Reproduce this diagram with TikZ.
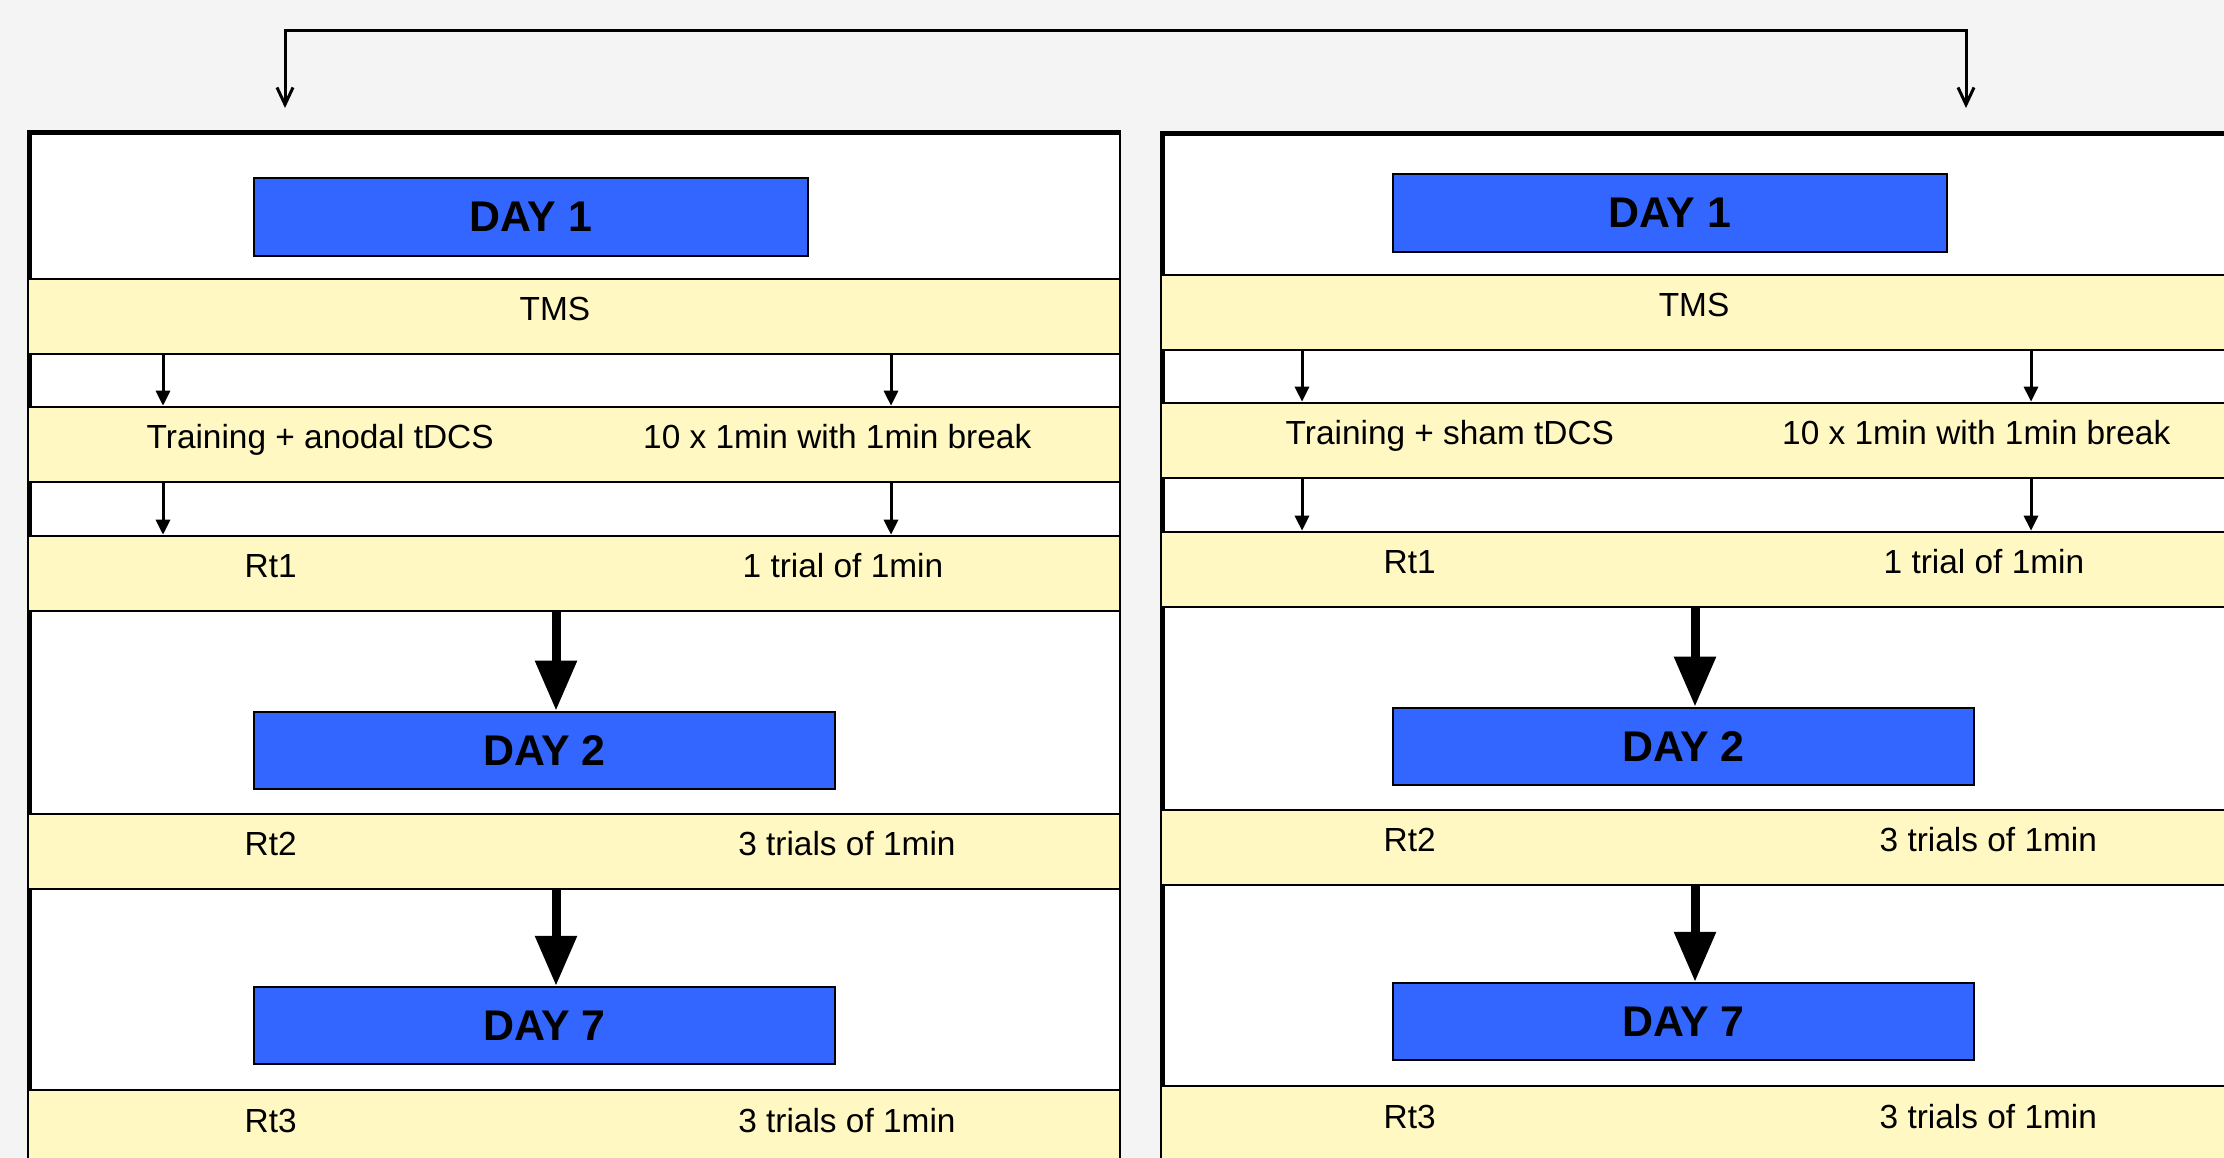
\documentclass[tikz,border=0pt]{standalone}
\usepackage{fontspec}
\setmainfont{Liberation Sans}
\usetikzlibrary{arrows.meta}
\definecolor{daybl}{HTML}{3366FF}
\definecolor{bandyl}{HTML}{FFF8C2}
\definecolor{pagebg}{HTML}{F4F4F4}

\begin{document}
\begin{tikzpicture}[x=0.01cm, y=-0.01cm,
	panel/.style={draw, fill=white, line width=0.8pt, anchor=north west, minimum height=11cm, inner sep=0pt},
	band/.style={draw, fill=bandyl, line width=0.6pt, anchor=north west, minimum height=0.75cm, inner sep=0pt},
	day/.style={draw, fill=daybl, line width=0.6pt, anchor=north west, minimum height=0.775cm, inner sep=0pt, font=\fontsize{12.2}{14}\bfseries},
	txt/.style={anchor=base west, inner sep=0pt, font=\fontsize{9.5}{11}\selectfont},
	smallarrow/.style={-{Triangle[length=0.15cm, width=0.14cm]}, line width=0.03cm},
	bigarrow/.style={-{Triangle[length=0.5cm, width=0.4cm]}, line width=0.09cm},
	splitarrow/.style={{Straight Barb[length=0.17cm, width=0.16cm]}-{Straight Barb[length=0.17cm, width=0.16cm]}, line width=0.03cm}]

	\fill[pagebg] (0,0) rectangle (2224,1158);
	\useasboundingbox (0,0) rectangle (2224,1158);
	\clip (0,0) rectangle (2224,1158);

	% anodal group
	\node [panel, minimum width=10.91cm] (panelL) at (27,130) {};
	\draw [line width=0.4pt] ([xshift=0.04cm]panelL.south west) |- ([yshift=-0.04cm]panelL.north east);
	\node [day, minimum width=5.545cm] (dayL1) at (252.5,177) {DAY 1};
	\node [band, minimum width=10.91cm] (tmsL) at (27,278) {};
	\node [band, minimum width=10.91cm] (trainL) at (27,405.7) {};
	\node [band, minimum width=10.91cm] (rtL1) at (27,534.7) {};
	\node [day, minimum width=5.815cm] (dayL2) at (252.5,710.6) {DAY 2};
	\node [band, minimum width=10.91cm] (rtL2) at (27,812.7) {};
	\node [day, minimum width=5.815cm] (dayL7) at (252.5,985.8) {DAY 7};
	\node [band, minimum width=10.91cm] (rtL3) at (27,1089.3) {};

	\node [txt, anchor=base] (tmsLt) at (555,321) {TMS};
	\node [txt] (trainLa) at (146,448.7) {Training + anodal tDCS};
	\node [txt] (trainLb) at (642.5,448.7) {10 x 1min with 1min break};
	\node [txt] (rtL1a) at (244,577.7) {Rt1};
	\node [txt] (rtL1b) at (742,577.7) {1 trial of 1min};
	\node [txt] (rtL2a) at (244,855.7) {Rt2};
	\node [txt] (rtL2b) at (737.6,855.7) {3 trials of 1min};
	\node [txt] (rtL3a) at (244,1132.3) {Rt3};
	\node [txt] (rtL3b) at (737.6,1132.3) {3 trials of 1min};

	\coordinate (colLA) at (163,0);
	\coordinate (colLB) at (891,0);
	\coordinate (colLM) at (556,0);
	\draw [smallarrow] (tmsL.south -| colLA) -- (trainL.north -| colLA);
	\draw [smallarrow] (tmsL.south -| colLB) -- (trainL.north -| colLB);
	\draw [smallarrow] (trainL.south -| colLA) -- (rtL1.north -| colLA);
	\draw [smallarrow] (trainL.south -| colLB) -- (rtL1.north -| colLB);
	\draw [bigarrow] (rtL1.south -| colLM) -- (dayL2.north -| colLM);
	\draw [bigarrow] (rtL2.south -| colLM) -- (dayL7.north -| colLM);

	% sham group
	\node [panel, minimum width=11.39cm] (panelR) at (1160,131) {};
	\draw [line width=0.4pt] ([xshift=0.04cm]panelR.south west) |- ([yshift=-0.04cm]panelR.north east);
	\node [day, minimum width=5.545cm] (dayR1) at (1391.5,173) {DAY 1};
	\node [band, minimum width=11.39cm] (tmsR) at (1160,274) {};
	\node [band, minimum width=11.39cm] (trainR) at (1160,401.7) {};
	\node [band, minimum width=11.39cm] (rtR1) at (1160,530.7) {};
	\node [day, minimum width=5.815cm] (dayR2) at (1391.5,706.6) {DAY 2};
	\node [band, minimum width=11.39cm] (rtR2) at (1160,808.7) {};
	\node [day, minimum width=5.815cm] (dayR7) at (1391.5,981.8) {DAY 7};
	\node [band, minimum width=11.39cm] (rtR3) at (1160,1085.3) {};

	\node [txt, anchor=base] (tmsRt) at (1694,317) {TMS};
	\node [txt] (trainRa) at (1285,444.7) {Training + sham tDCS};
	\node [txt] (trainRb) at (1781.5,444.7) {10 x 1min with 1min break};
	\node [txt] (rtR1a) at (1383,573.7) {Rt1};
	\node [txt] (rtR1b) at (1883,573.7) {1 trial of 1min};
	\node [txt] (rtR2a) at (1383,851.7) {Rt2};
	\node [txt] (rtR2b) at (1879,851.7) {3 trials of 1min};
	\node [txt] (rtR3a) at (1383,1128.3) {Rt3};
	\node [txt] (rtR3b) at (1879,1128.3) {3 trials of 1min};

	\coordinate (colRA) at (1302,0);
	\coordinate (colRB) at (2031,0);
	\coordinate (colRM) at (1695,0);
	\draw [smallarrow] (tmsR.south -| colRA) -- (trainR.north -| colRA);
	\draw [smallarrow] (tmsR.south -| colRB) -- (trainR.north -| colRB);
	\draw [smallarrow] (trainR.south -| colRA) -- (rtR1.north -| colRA);
	\draw [smallarrow] (trainR.south -| colRB) -- (rtR1.north -| colRB);
	\draw [bigarrow] (rtR1.south -| colRM) -- (dayR2.north -| colRM);
	\draw [bigarrow] (rtR2.south -| colRM) -- (dayR7.north -| colRM);

	% split into the two groups
	\coordinate (inL) at (285,108);
	\coordinate (inR) at (1966,108);
	\draw [splitarrow] (inL) -- ++(0,-77) -| (inR);
\end{tikzpicture}
\end{document}
